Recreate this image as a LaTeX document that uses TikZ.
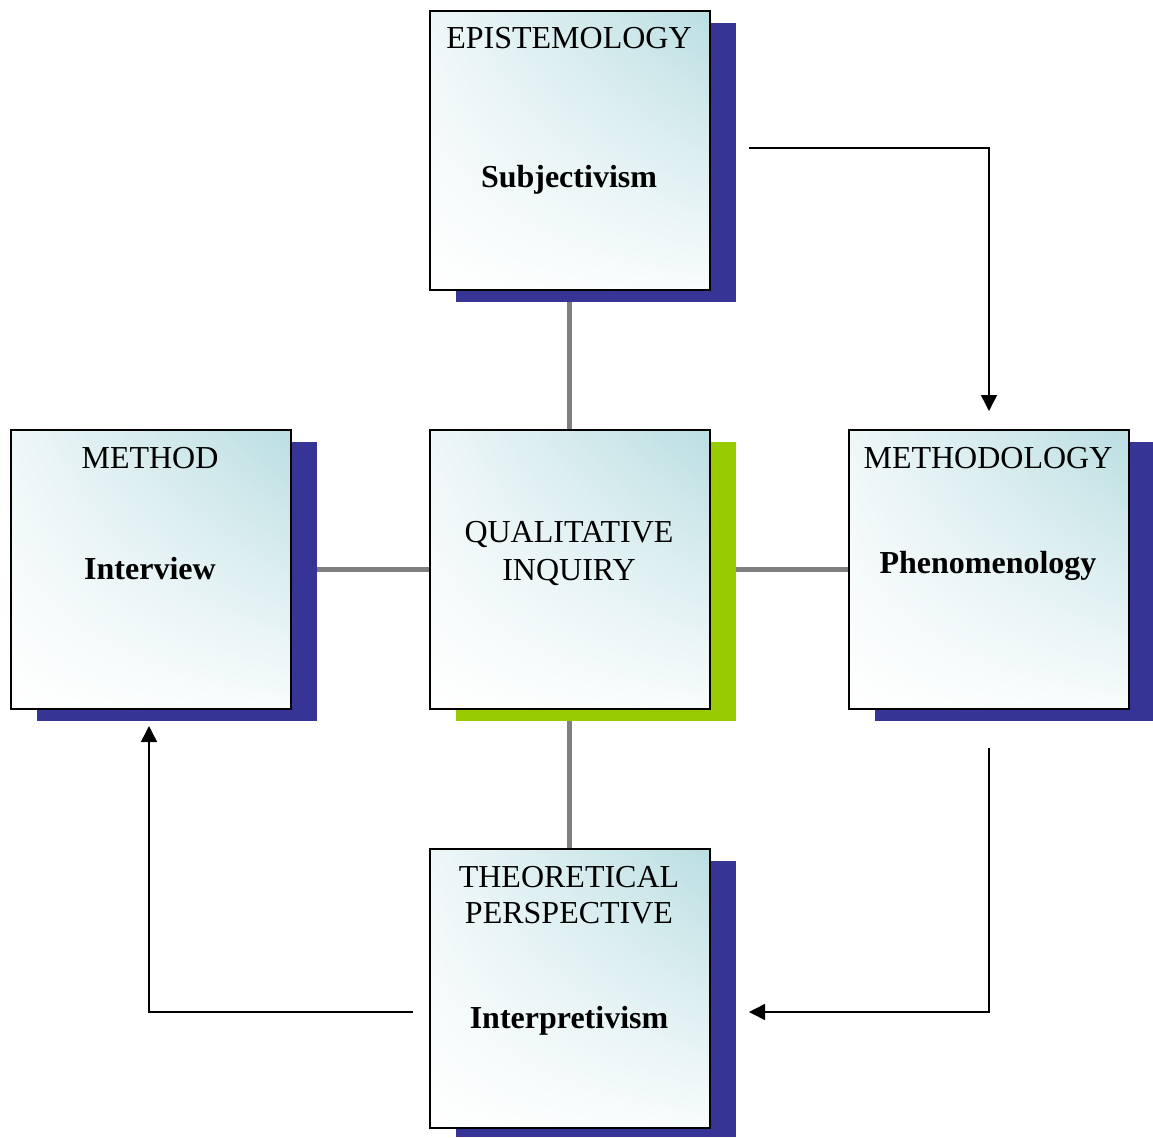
\documentclass[tikz,border=0pt]{standalone}
\usepackage{fontspec}
\setmainfont{Liberation Serif}
\usetikzlibrary{arrows.meta,shadings}
\definecolor{shadowblue}{RGB}{54,53,150}
\definecolor{shadowgreen}{RGB}{153,204,0}
\definecolor{tealdark}{RGB}{186,222,226}
\definecolor{teallight}{RGB}{238,247,248}
\definecolor{tealpale}{RGB}{248,252,252}
\definecolor{linkgray}{RGB}{128,128,128}
\tikzset{
  card/.style={draw=black, line width=1.6pt, shade,
    upper right=tealdark, upper left=teallight,
    lower right=tealpale, lower left=white,
    minimum width=280pt, minimum height=279pt, inner sep=0pt},
  backing/.style={fill=#1, draw=none, minimum width=280pt, minimum height=279pt, inner sep=0pt},
  heading/.style={font=\fontsize{32}{38}\selectfont, align=center, inner sep=0pt},
  term/.style={font=\fontsize{32}{38}\selectfont\bfseries, inner sep=0pt},
  link/.style={draw=linkgray, line width=5pt},
  flow/.style={draw=black, line width=1.5pt, -{Triangle[length=16pt,width=16pt]}}
}
\begin{document}
\begin{tikzpicture}[x=1pt,y=-1pt]
\useasboundingbox (0,0) rectangle (1153,1137);

% shadows behind the cards
\node[backing=shadowblue, anchor=north west] (epiS) at (456,23) {};
\node[backing=shadowblue, anchor=north west] (metS) at (37,442) {};
\node[backing=shadowgreen, anchor=north west] (quaS) at (456,442) {};
\node[backing=shadowblue, anchor=north west, minimum width=278pt] (mtgS) at (875,442) {};
\node[backing=shadowblue, anchor=north west, minimum height=276pt] (theS) at (456,861) {};

% cards
\node[card, anchor=north west] (epi) at (429,10) {};
\node[card, anchor=north west] (met) at (10,429) {};
\node[card, anchor=north west] (qua) at (429,429) {};
\node[card, anchor=north west] (mtg) at (848,429) {};
\node[card, anchor=north west] (the) at (429,848) {};

% labels
\node[heading, anchor=base] (epiH) at (569,49) {EPISTEMOLOGY};
\node[term, anchor=base] (epiT) at (569,187) {Subjectivism};
\node[heading, anchor=base] (metH) at (150,468) {METHOD};
\node[term, anchor=base] (metT) at (150,579) {Interview};
\node[heading, anchor=base] (quaH) at (569,542) {QUALITATIVE};
\node[heading, anchor=base] (quaH2) at (569,580) {INQUIRY};
\node[heading, anchor=base] (mtgH) at (988,468) {METHODOLOGY};
\node[term, anchor=base] (mtgT) at (988,573) {Phenomenology};
\node[heading, anchor=base] (theH) at (569,887) {THEORETICAL};
\node[heading, anchor=base] (theH2) at (569,923) {PERSPECTIVE};
\node[term, anchor=base] (theT) at (569,1028) {Interpretivism};

% grey links to the central card
\draw[link] (epi.south |- epiS.south) -- (qua.north);
\draw[link] (the.north) -- (qua.south |- quaS.south);
\draw[link] (metS.east |- qua.west) -- (qua.west);
\draw[link] (quaS.east |- qua.east) -- (mtg.west);

% cycle arrows
\coordinate (a0) at (749,148);
\coordinate (a1) at (989,411);
\coordinate (b0) at (989,748);
\coordinate (b1) at (749,1012);
\coordinate (c0) at (413,1012);
\coordinate (c1) at (149,726);
\draw[flow] (a0) -| (a1);
\draw[flow] (b0) |- (b1);
\draw[flow] (c0) -| (c1);
\end{tikzpicture}
\end{document}
